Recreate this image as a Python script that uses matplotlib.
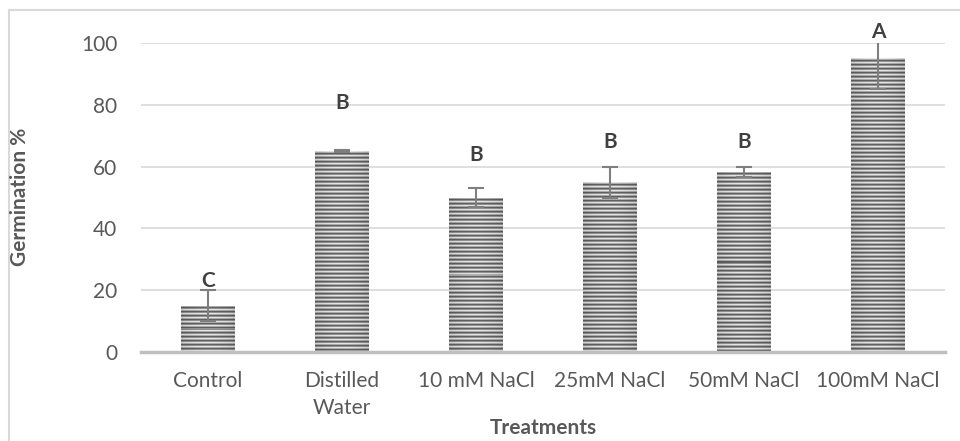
import numpy as np
import matplotlib
matplotlib.use('Agg')
import matplotlib.pyplot as plt
from matplotlib.lines import Line2D

# data
treatments = ['Control', 'Distilled\nWater', '10 mM NaCl', '25mM NaCl', '50mM NaCl', '100mM NaCl']
germination = [15, 65, 50, 55, 58.3, 95]
errors = [5, 0.3, 3, 5, 1.7, 10]
letters = ['C', 'B', 'B', 'B', 'B', 'A']
letter_y = [23, 80.5, 63.7, 68, 68, 103.5]

plt.rcParams['font.family'] = ['Lato', 'DejaVu Sans']
text_col = '#595959'

fig = plt.figure(figsize=(9.6, 4.41), dpi=100)
ax = fig.add_axes([141 / 960, 1 - 352 / 441, (945 - 141) / 960, (352 - 43) / 441])

x = np.arange(len(treatments))
ax.set_xlim(-0.5, len(treatments) - 0.5)
ax.set_ylim(0, 100)

bars = ax.bar(x, germination, width=0.40, color='none', edgecolor='none', zorder=2)


def striped_fill(bar):
    # excel style horizontal stripes with a slight shading across the width
    x0, y0 = bar.get_x(), bar.get_y()
    w, h = bar.get_width(), bar.get_height()
    p0 = ax.transData.transform((x0, y0))
    p1 = ax.transData.transform((x0 + w, y0 + h))
    ncols = max(int(round(p1[0] - p0[0])), 2)
    nrows = max(int(round(p1[1] - p0[1])), 2)
    period = np.array([0.90, 0.68, 0.38, 0.58])
    rows = period[np.arange(nrows) % 4]
    t = np.linspace(-1, 1, ncols)
    cols = 1.0 - 0.10 * t ** 2
    img = np.clip(rows[:, None] * cols[None, :], 0, 1)
    rgb = np.dstack([img, img, img])
    im = ax.imshow(rgb, extent=(x0, x0 + w, y0, y0 + h), origin='upper',
                   interpolation='nearest', aspect='auto', zorder=2)
    im.set_clip_path(bar)


for b in bars:
    striped_fill(b)

ax.errorbar(x, germination, yerr=errors, fmt='none', ecolor='#7f7f7f',
            elinewidth=1.5, capsize=6, capthick=1.5, zorder=3)

for xi, lab, ly in zip(x, letters, letter_y):
    ax.text(xi, ly, lab, ha='center', va='center', fontsize=15,
            fontweight='bold', color='#404040', clip_on=False)

ax.set_yticks([0, 20, 40, 60, 80, 100])
ax.yaxis.grid(True, color='#d9d9d9', linewidth=1.2, zorder=0)
ax.set_axisbelow(True)
ax.tick_params(axis='both', length=0, labelsize=15, labelcolor=text_col)
ax.tick_params(axis='y', pad=17)
ax.tick_params(axis='x', pad=14)
ax.set_xticks(x)
ax.set_xticklabels(treatments, linespacing=1.4)

for s in ['top', 'right', 'left']:
    ax.spines[s].set_visible(False)
ax.spines['bottom'].set_color('#bfbfbf')
ax.spines['bottom'].set_linewidth(2.5)
ax.spines['bottom'].set_zorder(4)

fig.text(20 / 960, 1 - 197 / 441, 'Germination %', rotation=90, ha='center', va='center',
         fontsize=15, fontweight='bold', color=text_col)
fig.text(543 / 960, 1 - 428 / 441, 'Treatments', ha='center', va='center',
         fontsize=15, fontweight='bold', color=text_col)

# chart area border (only left and top visible in the crop)
fig.add_artist(Line2D([8.5 / 960, 8.5 / 960], [0, 1 - 10 / 441], color='#d9d9d9', lw=1.5))
fig.add_artist(Line2D([8.5 / 960, 1], [1 - 10 / 441, 1 - 10 / 441], color='#d9d9d9', lw=1.5))

fig.savefig('out.png', dpi=100)
